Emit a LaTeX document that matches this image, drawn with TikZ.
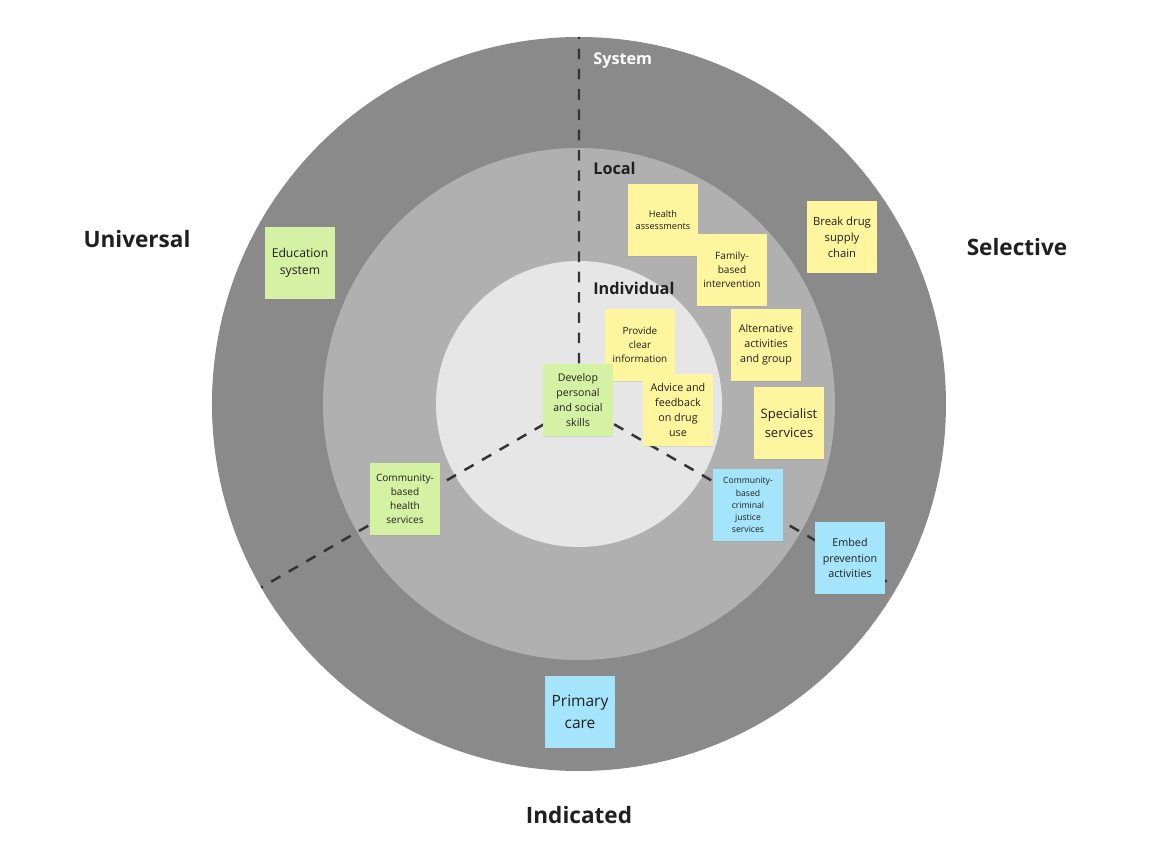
\documentclass[tikz,border=0pt]{standalone}
\usepackage{fontspec}
\setmainfont{Open Sans}
\usetikzlibrary{calc,shadows}
\definecolor{systemgray}{HTML}{8A8A8A}
\definecolor{localgray}{HTML}{B0B0B0}
\definecolor{indivgray}{HTML}{E6E6E6}
\definecolor{noteyellow}{HTML}{FFF59F}
\definecolor{notegreen}{HTML}{D5F1A3}
\definecolor{noteblue}{HTML}{A5E5FB}
\definecolor{inkcolor}{HTML}{1F1F1F}
\newcommand{\notefont}[1]{\fontsize{#1pt}{\dimexpr#1pt*140/100\relax}\selectfont}

\begin{document}
\begin{tikzpicture}[x=0.567pt,y=0.567pt,
    note/.style={minimum width=39.7pt,minimum height=40.8pt,inner sep=0pt,align=center,text=inkcolor,
      drop shadow={opacity=0.18,shadow xshift=0pt,shadow yshift=-0.8pt}},
    yellownote/.style={note,fill=noteyellow},
    greennote/.style={note,fill=notegreen},
    bluenote/.style={note,fill=noteblue},
    ringlabel/.style={anchor=west,inner sep=0pt,font=\notefont{9.2}\bfseries,text=inkcolor},
    typelabel/.style={font=\notefont{12.8}\bfseries,text=inkcolor},
    divider/.style={line width=1.4pt,dash pattern=on 6pt off 5.5pt,draw=black!80}]
  \useasboundingbox (-579,-462) rectangle (575,404);
  % rings
  \coordinate (O) at (0,0);
  \fill[systemgray] (O) circle (367);
  \fill[localgray] (O) circle (256);
  \fill[indivgray] (O) circle (143);
  % sector dividers
  \coordinate (T) at (90:367); \coordinate (L) at (210:367); \coordinate (R) at (330:357);
  \draw[divider] (O) -- (T) (O) -- (L) (O) -- (R);
  % ring names
  \node[ringlabel,text=white] (system) at (14,343) {System};
  \node[ringlabel] (local) at (14,236) {Local};
  \node[ringlabel] (individual) at (14,116) {Individual};
  % prevention types
  \node[typelabel] (universal) at (-442,165) {Universal};
  \node[typelabel] (selective) at (438,157) {Selective};
  \node[typelabel] (indicated) at (0,-411) {Indicated};
  % system ring
  \node[greennote,font=\notefont{6.9}] (education) at (-279,141) {Education\\system};
  \node[yellownote,font=\notefont{6.4}] (supply) at (263,167) {Break drug\\supply\\chain};
  \node[bluenote,font=\notefont{6.1}] (embed) at (271,-154) {Embed\\prevention\\activities};
  \node[bluenote,font=\notefont{8.8}] (primary) at (1,-308) {Primary\\care};
  % local ring
  \node[yellownote,font=\notefont{5.2}] (health) at (84,184) {Health\\assessments};
  \node[yellownote,font=\notefont{5.7}] (family) at (153,134) {Family-\\based\\intervention};
  \node[yellownote,font=\notefont{6.1}] (alternative) at (187,59) {Alternative\\activities\\and group};
  \node[yellownote,font=\notefont{7.4}] (specialist) at (210,-19) {Specialist\\services};
  \node[bluenote,font=\notefont{4.9}] (criminal) at (169,-101) {Community-\\based\\criminal\\justice\\services};
  \node[greennote,font=\notefont{5.7}] (community) at (-174,-95) {Community-\\based\\health\\services};
  % individual ring
  \node[yellownote,font=\notefont{5.6}] (provide) at (61,59) {Provide\\clear\\information};
  \node[greennote,font=\notefont{6}] (develop) at (-1,4) {Develop\\personal\\and social\\skills};
  \node[yellownote,font=\notefont{6.1}] (advice) at (99,-6) {Advice and\\feedback\\on drug\\use};
\end{tikzpicture}
\end{document}
